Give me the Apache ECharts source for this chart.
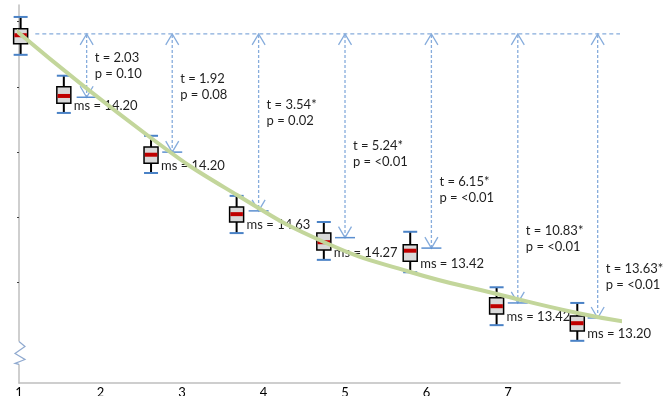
<!DOCTYPE html>
<html><head><meta charset="utf-8">
<script src="https://cdn.jsdelivr.net/npm/echarts@6/dist/echarts.min.js"></script>
<style>html,body{margin:0;padding:0;background:#fff}#c{width:663px;height:396px}</style>
</head><body><div id="c"></div>
<script>
// ---- data ----
const xTickLabels = ['1','2','3','4','5','6','7'];
const boxX        = [1.02, 1.55, 2.62, 3.67, 4.74, 5.80, 6.86, 7.85];
const whiskerHigh = [6.07, 5.17, 4.25, 3.33, 2.93, 2.78, 1.93, 1.69];
const q3          = [5.89, 5.00, 4.08, 3.16, 2.76, 2.58, 1.77, 1.49];
const median      = [5.79, 4.86, 3.96, 3.05, 2.62, 2.49, 1.64, 1.38];
const q1          = [5.66, 4.75, 3.83, 2.93, 2.50, 2.33, 1.52, 1.26];
const whiskerLow  = [5.49, 4.60, 3.68, 2.76, 2.35, 2.16, 1.35, 1.11];
const msValues    = ['', '14.20', '14.20', '14.63', '14.27', '13.42', '13.42', '13.20'];
const refLevel    = 5.81;
const refStartX   = 1.20;
const arrowX      = [1.83, 2.88, 3.94, 5.00, 6.06, 7.12, 8.10];
const arrowEnd    = [4.84, 4.00, 3.10, 2.69, 2.53, 1.69, 1.46];
const tValues     = ['2.03', '1.92', '3.54*', '5.24*', '6.15*', '10.83*', '13.63*'];
const pValues     = ['0.10', '0.08', '0.02', '<0.01', '<0.01', '<0.01', '<0.01'];
const statLabelY  = [5.32, 5.00, 4.60, 3.97, 3.42, 2.67, 2.09];
const trendX      = [0.94, 2.62, 3.675, 4.74, 5.80, 6.865, 7.85, 8.53];
const trendY      = [5.885, 4.216, 3.343, 2.623, 2.164, 1.827, 1.536, 1.383];
const yTickValues = [1, 2, 3, 4, 5, 6];

const FONT = '13px Lato, "Open Sans", sans-serif';
const TXT = '#1f1f1f';
const ARROW = '#86acdc';
const SEG = '#5b8fd0';

const boxData = boxX.map((x, i) => [x, whiskerHigh[i], q3[i], median[i], q1[i], whiskerLow[i], i]);
const arrowData = arrowX.map((x, i) => [x, arrowEnd[i], statLabelY[i], i]);
const trendData = trendX.map((x, i) => [x, trendY[i]]);

function renderBox(params, api) {
  const x = api.value(0);
  const pHi = api.coord([x, api.value(1)]);
  const pQ3 = api.coord([x, api.value(2)]);
  const pMed = api.coord([x, api.value(3)]);
  const pQ1 = api.coord([x, api.value(4)]);
  const pLo = api.coord([x, api.value(5)]);
  const idx = api.value(6);
  const cx = pHi[0], hw = 7;
  const ch = [
    {type:'line', shape:{x1:cx,y1:pHi[1],x2:cx,y2:pLo[1]}, style:{stroke:'#000',lineWidth:2}},
    {type:'line', shape:{x1:cx-hw,y1:pHi[1],x2:cx+hw,y2:pHi[1]}, style:{stroke:'#4a82c6',lineWidth:2}},
    {type:'line', shape:{x1:cx-hw,y1:pLo[1],x2:cx+hw,y2:pLo[1]}, style:{stroke:'#4a82c6',lineWidth:2}},
    {type:'rect', shape:{x:cx-hw,y:pQ3[1],width:2*hw,height:pQ1[1]-pQ3[1]}, style:{fill:'#d9d9d9',stroke:'#000',lineWidth:1.5}},
    {type:'rect', shape:{x:cx-hw+0.75,y:pMed[1]-2,width:2*hw-1.5,height:4}, style:{fill:'#c00000'}}
  ];
  if (msValues[idx]) {
    ch.push({type:'text', style:{text:'ms = ' + msValues[idx], x:cx+10, y:pQ1[1]+3,
      font:FONT, fill:TXT, align:'left', verticalAlign:'middle'}});
  }
  return {type:'group', children: ch};
}

function renderArrow(params, api) {
  const x = api.value(0);
  const pTop = api.coord([x, refLevel]);
  const pEnd = api.coord([x, api.value(1)]);
  const pLab = api.coord([x, api.value(2)]);
  const idx = api.value(3);
  const cx = pTop[0], aw = 6.5, ah = 11;
  return {type:'group', children:[
    {type:'line', shape:{x1:cx,y1:pTop[1]+1,x2:cx,y2:pEnd[1]-1}, style:{stroke:ARROW,lineWidth:1.3,lineDash:[3,2]}},
    {type:'polyline', shape:{points:[[cx-aw,pTop[1]+ah],[cx,pTop[1]],[cx+aw,pTop[1]+ah]]}, style:{stroke:ARROW,lineWidth:1.3,fill:null}},
    {type:'polyline', shape:{points:[[cx-aw,pEnd[1]-ah],[cx,pEnd[1]],[cx+aw,pEnd[1]-ah]]}, style:{stroke:ARROW,lineWidth:1.3,fill:null}},
    {type:'line', shape:{x1:cx-10,y1:pEnd[1],x2:cx+10,y2:pEnd[1]}, style:{stroke:SEG,lineWidth:1.5}},
    {type:'text', style:{text:'t = ' + tValues[idx] + '\np = ' + pValues[idx], x:cx+8, y:pLab[1],
      font:FONT, fill:TXT, align:'left', verticalAlign:'middle', lineHeight:16}}
  ]};
}

function renderRef(params, api) {
  const a = api.coord([refStartX, refLevel]);
  const b = api.coord([api.value(0), refLevel]);
  return {type:'line', shape:{x1:a[0],y1:a[1],x2:b[0],y2:b[1]}, style:{stroke:ARROW,lineWidth:1.3,lineDash:[4,3]}};
}

const chart = echarts.init(document.getElementById('c'), null, {renderer:'canvas'});
chart.setOption({
  animation:false,
  backgroundColor:'#fff',
  grid:{left:19, right:43, top:5, bottom:13, outerBoundsMode:'none'},
  xAxis:{type:'value', min:1, max:8.374, interval:1,
    axisLine:{lineStyle:{color:'#bfbfbf', width:1.5}},
    axisTick:{show:false}, splitLine:{show:false},
    axisLabel:{margin:3, color:'#000', fontSize:13, fontFamily:'Lato, sans-serif',
      formatter:v => { const i = Math.round(v) - 1; return (Math.abs(v - Math.round(v)) < 1e-6 && i >= 0 && i < xTickLabels.length) ? xTickLabels[i] : ''; }}},
  yAxis:{type:'value', min:0.464, max:6.253,
    axisLine:{show:true, lineStyle:{color:'#bfbfbf', width:1.5}},
    axisTick:{show:true, customValues:yTickValues, length:2, inside:false, lineStyle:{color:'#404040', width:1}},
    axisLabel:{show:false}, splitLine:{show:false}},
  series:[
    {type:'custom', name:'ref', renderItem:renderRef, data:[[8.374]], clip:false, z:2, silent:true},
    {type:'custom', name:'arrows', renderItem:renderArrow, data:arrowData, clip:false, z:3, silent:true,
      encode:{x:0, y:1}},
    {type:'custom', name:'boxes', renderItem:renderBox, data:boxData, clip:false, z:4, silent:true,
      encode:{x:0, y:[1,5]}},
    {type:'line', name:'trend', data:trendData, smooth:0.5, symbol:'none', clip:false, z:5,
      lineStyle:{color:'#c3d69b', width:4}}
  ]
});

// axis break marker on the y axis
const bTop = chart.convertToPixel({gridIndex:0}, [1, 1.1]);
const bBot = chart.convertToPixel({gridIndex:0}, [1, 0.75]);
const ax = bTop[0];
chart.setOption({graphic:[
  {type:'rect', z:100, shape:{x:ax-3, y:bTop[1], width:6, height:bBot[1]-bTop[1]}, style:{fill:'#fff'}},
  {type:'polyline', z:101, shape:{points:[[ax,bTop[1]],[ax+6,bTop[1]+5],[ax-4,bTop[1]+12],[ax+6,bTop[1]+18],[ax-4,bBot[1]-1],[ax,bBot[1]]]},
    style:{stroke:'#8fa9cf', lineWidth:1.2, fill:null}}
]});
</script>
</body></html>
